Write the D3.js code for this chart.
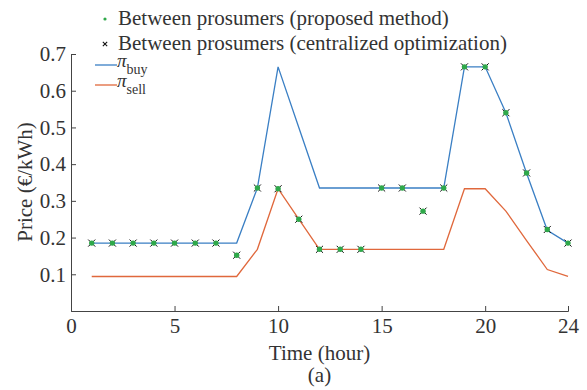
<!DOCTYPE html>
<html>
<head>
<meta charset="utf-8">
<script src="https://cdn.jsdelivr.net/npm/d3@7"></script>
<style>
  body { margin: 0; background: #fff; }
  svg { font-family: "Liberation Serif", "Times New Roman", serif; }
</style>
</head>
<body>
<svg width="587" height="390"></svg>
<script>
const hours = d3.range(1, 25);
const buyPrice = [0.185, 0.185, 0.185, 0.185, 0.185, 0.185, 0.185, 0.185, 0.335, 0.665, 0.50, 0.335,
                  0.335, 0.335, 0.335, 0.335, 0.335, 0.335, 0.665, 0.665, 0.54, 0.375, 0.22, 0.185];
const sellPrice = [0.094, 0.094, 0.094, 0.094, 0.094, 0.094, 0.094, 0.094, 0.168, 0.333, 0.25, 0.168,
                   0.168, 0.168, 0.168, 0.168, 0.168, 0.168, 0.333, 0.333, 0.272, 0.192, 0.113, 0.094];
const proposed = [0.185, 0.185, 0.185, 0.185, 0.185, 0.185, 0.185, 0.152, 0.335, 0.333, 0.25, 0.168,
                  0.168, 0.168, 0.335, 0.335, 0.272, 0.335, 0.665, 0.665, 0.54, 0.376, 0.222, 0.185];
const centralized = proposed.slice();
const xTicks = [0, 5, 10, 15, 20, 24];
const yTicks = [0.1, 0.2, 0.3, 0.4, 0.5, 0.6, 0.7];

const svg = d3.select('svg');
const margin = { left: 71, right: 19, top: 54, bottom: 79 };
const width = 587, height = 390;
const fs = 21;

const x = d3.scaleLinear().domain([0, 24]).range([margin.left, width - margin.right]);
const y = d3.scaleLinear().domain([0, 0.7]).range([height - margin.bottom, margin.top]);

const blue = '#3a7fc4';
const red = '#e0683c';
const green = '#2fa84a';

// axes, ticks point inward
svg.append('g')
  .attr('transform', `translate(0,${y(0)})`)
  .call(d3.axisBottom(x).tickValues(xTicks).tickSize(-5).tickPadding(7).tickFormat(d3.format('d')))
  .call(g => g.selectAll('text').attr('font-size', fs).attr('fill', '#333').attr('font-family', 'Liberation Serif'))
  .call(g => g.selectAll('line,path').attr('stroke', '#444'));

svg.append('g')
  .attr('transform', `translate(${x(0)},0)`)
  .call(d3.axisLeft(y).tickValues(yTicks).tickSize(-5).tickPadding(5).tickFormat(d3.format('.1f')))
  .call(g => g.selectAll('text').attr('font-size', fs).attr('fill', '#333').attr('font-family', 'Liberation Serif'))
  .call(g => g.selectAll('line,path').attr('stroke', '#444'));

// lines
const line = d3.line().x((d, i) => x(hours[i])).y(d => y(d));
svg.append('path').datum(sellPrice).attr('d', line)
  .attr('fill', 'none').attr('stroke', red).attr('stroke-width', 1.3);
svg.append('path').datum(buyPrice).attr('d', line)
  .attr('fill', 'none').attr('stroke', blue).attr('stroke-width', 1.3);

// markers: centralized (black x) under proposed (green dot)
const cross = d3.symbol().type(d3.symbolTimes).size(34);
svg.append('g').selectAll('path')
  .data(centralized)
  .join('path')
  .attr('d', cross)
  .attr('transform', (d, i) => `translate(${x(hours[i])},${y(d)})`)
  .attr('fill', '#111').attr('stroke', '#111').attr('stroke-width', 1);
svg.append('g').selectAll('circle')
  .data(proposed)
  .join('circle')
  .attr('cx', (d, i) => x(hours[i]))
  .attr('cy', d => y(d))
  .attr('r', 2.7)
  .attr('fill', green);

// labels
svg.append('text')
  .attr('x', (x(0) + x(24)) / 2).attr('y', 360)
  .attr('text-anchor', 'middle').attr('font-size', fs).attr('fill', '#333')
  .text('Time (hour)');
svg.append('text')
  .attr('x', (x(0) + x(24)) / 2).attr('y', 382)
  .attr('text-anchor', 'middle').attr('font-size', fs).attr('fill', '#333')
  .text('(a)');
svg.append('text')
  .attr('transform', 'translate(32,182) rotate(-90)')
  .attr('text-anchor', 'middle').attr('font-size', fs).attr('fill', '#333')
  .text('Price (€/kWh)');

// legend
const leg = svg.append('g');
leg.append('circle').attr('cx', 105).attr('cy', 19).attr('r', 1.6).attr('fill', green);
leg.append('text').attr('x', 118).attr('y', 25).attr('font-size', fs).attr('fill', '#333')
  .text('Between prosumers (proposed method)');
leg.append('path').attr('d', d3.symbol().type(d3.symbolTimes).size(14))
  .attr('transform', 'translate(105,44)').attr('stroke', '#111').attr('stroke-width', 1.1);
leg.append('text').attr('x', 118).attr('y', 50).attr('font-size', fs).attr('fill', '#333')
  .text('Between prosumers (centralized optimization)');

const piItems = [{ sub: 'buy', color: blue, y: 65 }, { sub: 'sell', color: red, y: 85 }];
piItems.forEach(p => {
  leg.append('line').attr('x1', 95).attr('x2', 117).attr('y1', p.y).attr('y2', p.y)
    .attr('stroke', p.color).attr('stroke-width', 1.3);
  const t = leg.append('text').attr('x', 117).attr('y', p.y + 2).attr('font-size', 19).attr('fill', '#333');
  t.append('tspan').attr('font-style', 'italic').text('π');
  t.append('tspan').attr('font-size', 14).attr('dy', 7).text(p.sub);
});
</script>
</body>
</html>
